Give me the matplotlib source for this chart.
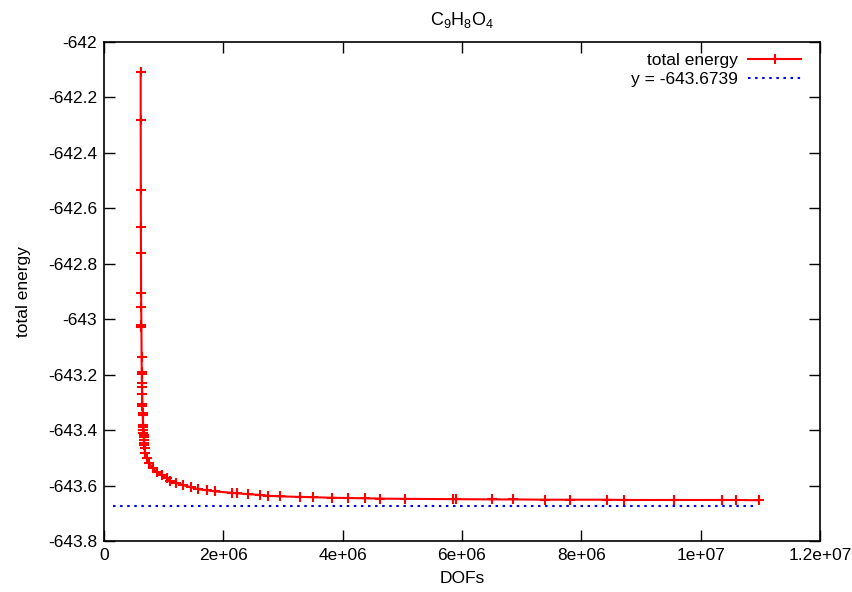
import numpy as np
import matplotlib
matplotlib.use('Agg')
import matplotlib.pyplot as plt
from matplotlib.ticker import FuncFormatter, MultipleLocator

plt.rcParams['font.family'] = ['Liberation Sans', 'DejaVu Sans']
plt.rcParams['mathtext.fontset'] = 'custom'
plt.rcParams['mathtext.rm'] = 'Liberation Sans'
plt.rcParams['mathtext.it'] = 'Liberation Sans'

# data
dofs = [0.615e6, 0.615e6, 0.617e6, 0.618e6, 0.620e6, 0.622e6, 0.624e6, 0.626e6, 0.627e6,
        0.630e6, 0.633e6, 0.634e6, 0.636e6, 0.637e6, 0.640e6, 0.643e6, 0.644e6, 0.648e6,
        0.650e6, 0.655e6, 0.657e6, 0.660e6, 0.662e6, 0.665e6, 0.668e6, 0.671e6, 0.674e6,
        0.678e6, 0.683e6,
        0.687e6, 0.716e6, 0.759e6, 0.816e6, 0.883e6, 0.967e6, 1.051e6, 1.106e6, 1.207e6,
        1.319e6, 1.453e6, 1.580e6, 1.721e6, 1.860e6, 2.140e6, 2.224e6, 2.418e6, 2.614e6,
        2.753e6, 2.950e6, 3.285e6, 3.508e6, 3.816e6, 4.094e6, 4.374e6, 4.625e6,
        5.044e6, 5.844e6, 5.899e6, 6.497e6, 6.859e6, 7.391e6, 7.810e6, 8.425e6, 8.720e6,
        9.558e6, 10.352e6, 10.587e6, 10.977e6]
energy = [-642.107, -642.281, -642.534, -642.666, -642.760, -642.907, -642.955, -643.021,
          -643.029, -643.135, -643.192, -643.198, -643.231, -643.243, -643.271, -643.306,
          -643.312, -643.337, -643.346, -643.382, -643.390, -643.400, -643.409, -643.418,
          -643.426, -643.436, -643.446, -643.454, -643.466,
          -643.484, -643.502, -643.520, -643.538, -643.550, -643.562, -643.574, -643.583,
          -643.590, -643.598, -643.606, -643.613, -643.617, -643.621, -643.626, -643.628,
          -643.631, -643.634, -643.637, -643.639, -643.641, -643.642, -643.644, -643.645,
          -643.646, -643.647,
          -643.648, -643.649, -643.649, -643.650, -643.650, -643.651, -643.651, -643.651,
          -643.652, -643.652, -643.652, -643.652, -643.653]
ref_energy = -643.6739
ref_range = [0.15e6, 10.95e6]

fig = plt.figure(figsize=(8.53, 5.92), dpi=100)
ax = fig.add_axes([104/853, 1-541/592, 716/853, 499/592])

ax.plot(dofs, energy, color='red', lw=1.5, marker='+', ms=6.5, mew=1.5, label='total energy')
ax.plot(ref_range, [ref_energy, ref_energy], color='blue', lw=1.5, ls=(0, (1.2, 2.2)),
        label='y = -643.6739')

ax.set_xlim(0, 1.2e7)
ax.set_ylim(-643.8, -642)
ax.xaxis.set_major_locator(MultipleLocator(2e6))
ax.yaxis.set_major_locator(MultipleLocator(0.2))
fmt = FuncFormatter(lambda v, p: '%g' % round(v, 6))
ax.xaxis.set_major_formatter(fmt)
ax.yaxis.set_major_formatter(fmt)
ax.tick_params(direction='in', length=8, width=1, top=True, right=True, labelsize=12.5, pad=5)
for s in ax.spines.values():
    s.set_linewidth(1.2)

ax.set_xlabel('DOFs', fontsize=12.5, labelpad=6)
ax.set_ylabel('total energy', fontsize=12.5, labelpad=12)
ax.set_title(r'C$_9$H$_8$O$_4$', fontsize=13, pad=12)

ax.legend(loc='upper right', bbox_to_anchor=(0.985, 0.995), frameon=False,
          markerfirst=False, fontsize=12.5, handlelength=3.0, borderaxespad=0.1,
          labelspacing=0.2, handletextpad=0.6, borderpad=0.4)

fig.savefig('out.png', dpi=100)
